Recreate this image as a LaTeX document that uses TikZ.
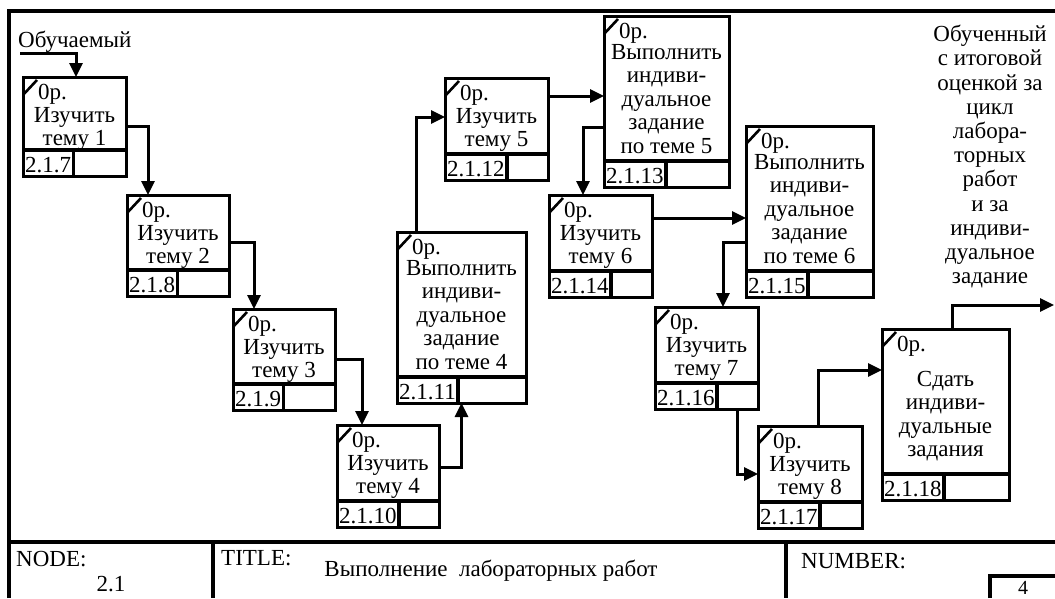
\documentclass[tikz,border=0pt]{standalone}
\usepackage{fontspec}
\setmainfont{Liberation Serif}
\usetikzlibrary{arrows.meta}

\tikzset{
  actbox/.style={draw, line width=3pt, anchor=north west, inner sep=0pt, outer sep=0pt},
  rule/.style={line width=3.3pt},
  tick/.style={line width=2.6pt},
  txt/.style={font=\fontsize{23}{23.5}\selectfont, inner sep=0pt},
  flow/.style={->, line width=3pt},
  frame/.style={line width=3.3pt},
  >={Triangle[length=14pt,width=13pt]}
}

% box: name, left, top, width, height, text offset, text, number
\newcommand{\abox}[8]{%
  \node[actbox, minimum width=#4pt, minimum height=#5pt] (#1) at (#2,#3) {};
  \coordinate (#1-d) at ([yshift=26pt]#1.south west);
  \draw[rule] (#1-d) -- (#1-d -| #1.east);
  \draw[tick] ([yshift=-18pt]#1.north west) -- ([xshift=14pt,yshift=-3pt]#1.north west);
  \node[txt, anchor=base west] (#1-op) at ([xshift=15pt,yshift=-22pt]#1.north west) {0р.};
  \node[txt, anchor=north, align=center] (#1-txt) at ([yshift=-#6pt]#1.north) {#7};
  \node[txt, anchor=base west, inner xsep=2pt] (#1-num) at ([yshift=4pt]#1.south west) {#8};
  \draw[rule] (#1-d -| #1-num.east) -- (#1.south -| #1-num.east);
}

\begin{document}
\begin{tikzpicture}[x=1pt, y=-1pt]
  \useasboundingbox (0,0) rectangle (1055,598);

  % frame and title block
  \draw[frame] (9,598) -- (9,11) -- (1055,11);
  \draw[frame] (9,542) -- (1055,542);
  \draw[frame] (213,542) -- (213,598);
  \draw[frame] (786,542) -- (786,598);
  \draw[frame] (990,598) -- (990,576) -- (1055,576);
  \node[txt, anchor=base west] (nodelbl) at (16,566) {NODE:};
  \node[txt, anchor=base] (nodenum) at (111,591) {2.1};
  \node[txt, anchor=base west] (titlelbl) at (221,565) {TITLE:};
  \node[txt, anchor=base] (title) at (491,576) {Выполнение\ \ лабораторных работ};
  \node[txt, anchor=base west] (numlbl) at (801,568) {NUMBER:};
  \node[txt, anchor=base, font=\fontsize{20}{20}\selectfont] (numval) at (1023,594) {4};

  % activities
  \abox{th1}{23}{77}{103}{99}{30}{Изучить\\тему 1}{2.1.7}
  \abox{th2}{127}{195}{102}{101}{30}{Изучить\\тему 2}{2.1.8}
  \abox{th3}{233}{309}{102}{101}{30}{Изучить\\тему 3}{2.1.9}
  \abox{th4}{337}{425}{102}{102}{30}{Изучить\\тему 4}{2.1.10}
  \abox{ind4}{397}{232}{129}{171}{28}{Выполнить\\индиви-\\дуальное\\задание\\по теме 4}{2.1.11}
  \abox{th5}{445}{78}{103}{102}{30}{Изучить\\тему 5}{2.1.12}
  \abox{ind5}{604}{16}{125}{171}{28}{Выполнить\\индиви-\\дуальное\\задание\\по теме 5}{2.1.13}
  \abox{th6}{549}{195}{103}{102}{30}{Изучить\\тему 6}{2.1.14}
  \abox{ind6}{746}{126}{127}{171}{28}{Выполнить\\индиви-\\дуальное\\задание\\по теме 6}{2.1.15}
  \abox{th7}{655}{307}{103}{102}{30}{Изучить\\тему 7}{2.1.16}
  \abox{th8}{758}{426}{104}{102}{30}{Изучить\\тему 8}{2.1.17}
  \abox{sdat}{882}{329}{127}{171}{42}{Сдать\\индиви-\\дуальные\\задания}{2.1.18}

  % input and output
  \node[txt, anchor=base west] (learnerlbl) at (18,47) {Обучаемый};
  \coordinate (learner) at (20,53);
  \node[txt, anchor=north, align=center, font=\fontsize{23}{24.2}\selectfont] (resultlbl) at (990,25)
    {Обученный\\с итоговой\\оценкой за\\цикл\\лабора-\\торных\\работ\\и за\\индиви-\\дуальное\\задание};
  \coordinate (result) at (1054,305);

  % connectors
  \draw[flow] (learner) -| ([xshift=53pt]th1.north west);
  \draw[flow] (th1.east) -| ([xshift=21pt]th2.north west);
  \draw[flow] ([yshift=-47pt]th2.north east) -| ([xshift=21pt]th3.north west);
  \draw[flow] ([yshift=-50pt]th3.north east) -| ([xshift=25pt]th4.north west);
  \draw[flow] ([yshift=-42pt]th4.north east) -| (ind4.south);
  \draw[flow] ([xshift=19pt]ind4.north west) |- ([yshift=-39pt]th5.north west);
  \coordinate (s5) at ([yshift=-18pt]th5.north east);
  \draw[flow] (s5) -- (s5 -| ind5.west);
  \draw[flow] ([yshift=-111pt]ind5.north west) -| ([xshift=34pt]th6.north west);
  \coordinate (s6) at ([yshift=-23pt]th6.north east);
  \draw[flow] (s6) -- (s6 -| ind6.west);
  \draw[flow] ([yshift=-116pt]ind6.north west) -| ([xshift=68pt]th7.north west);
  \draw[flow] ([xshift=82pt]th7.south west) |- ([yshift=-48pt]th8.north west);
  \draw[flow] ([xshift=60pt]th8.north west) |- ([yshift=-41pt]sdat.north west);
  \draw[flow] ([xshift=70pt]sdat.north west) |- (result);
\end{tikzpicture}
\end{document}
